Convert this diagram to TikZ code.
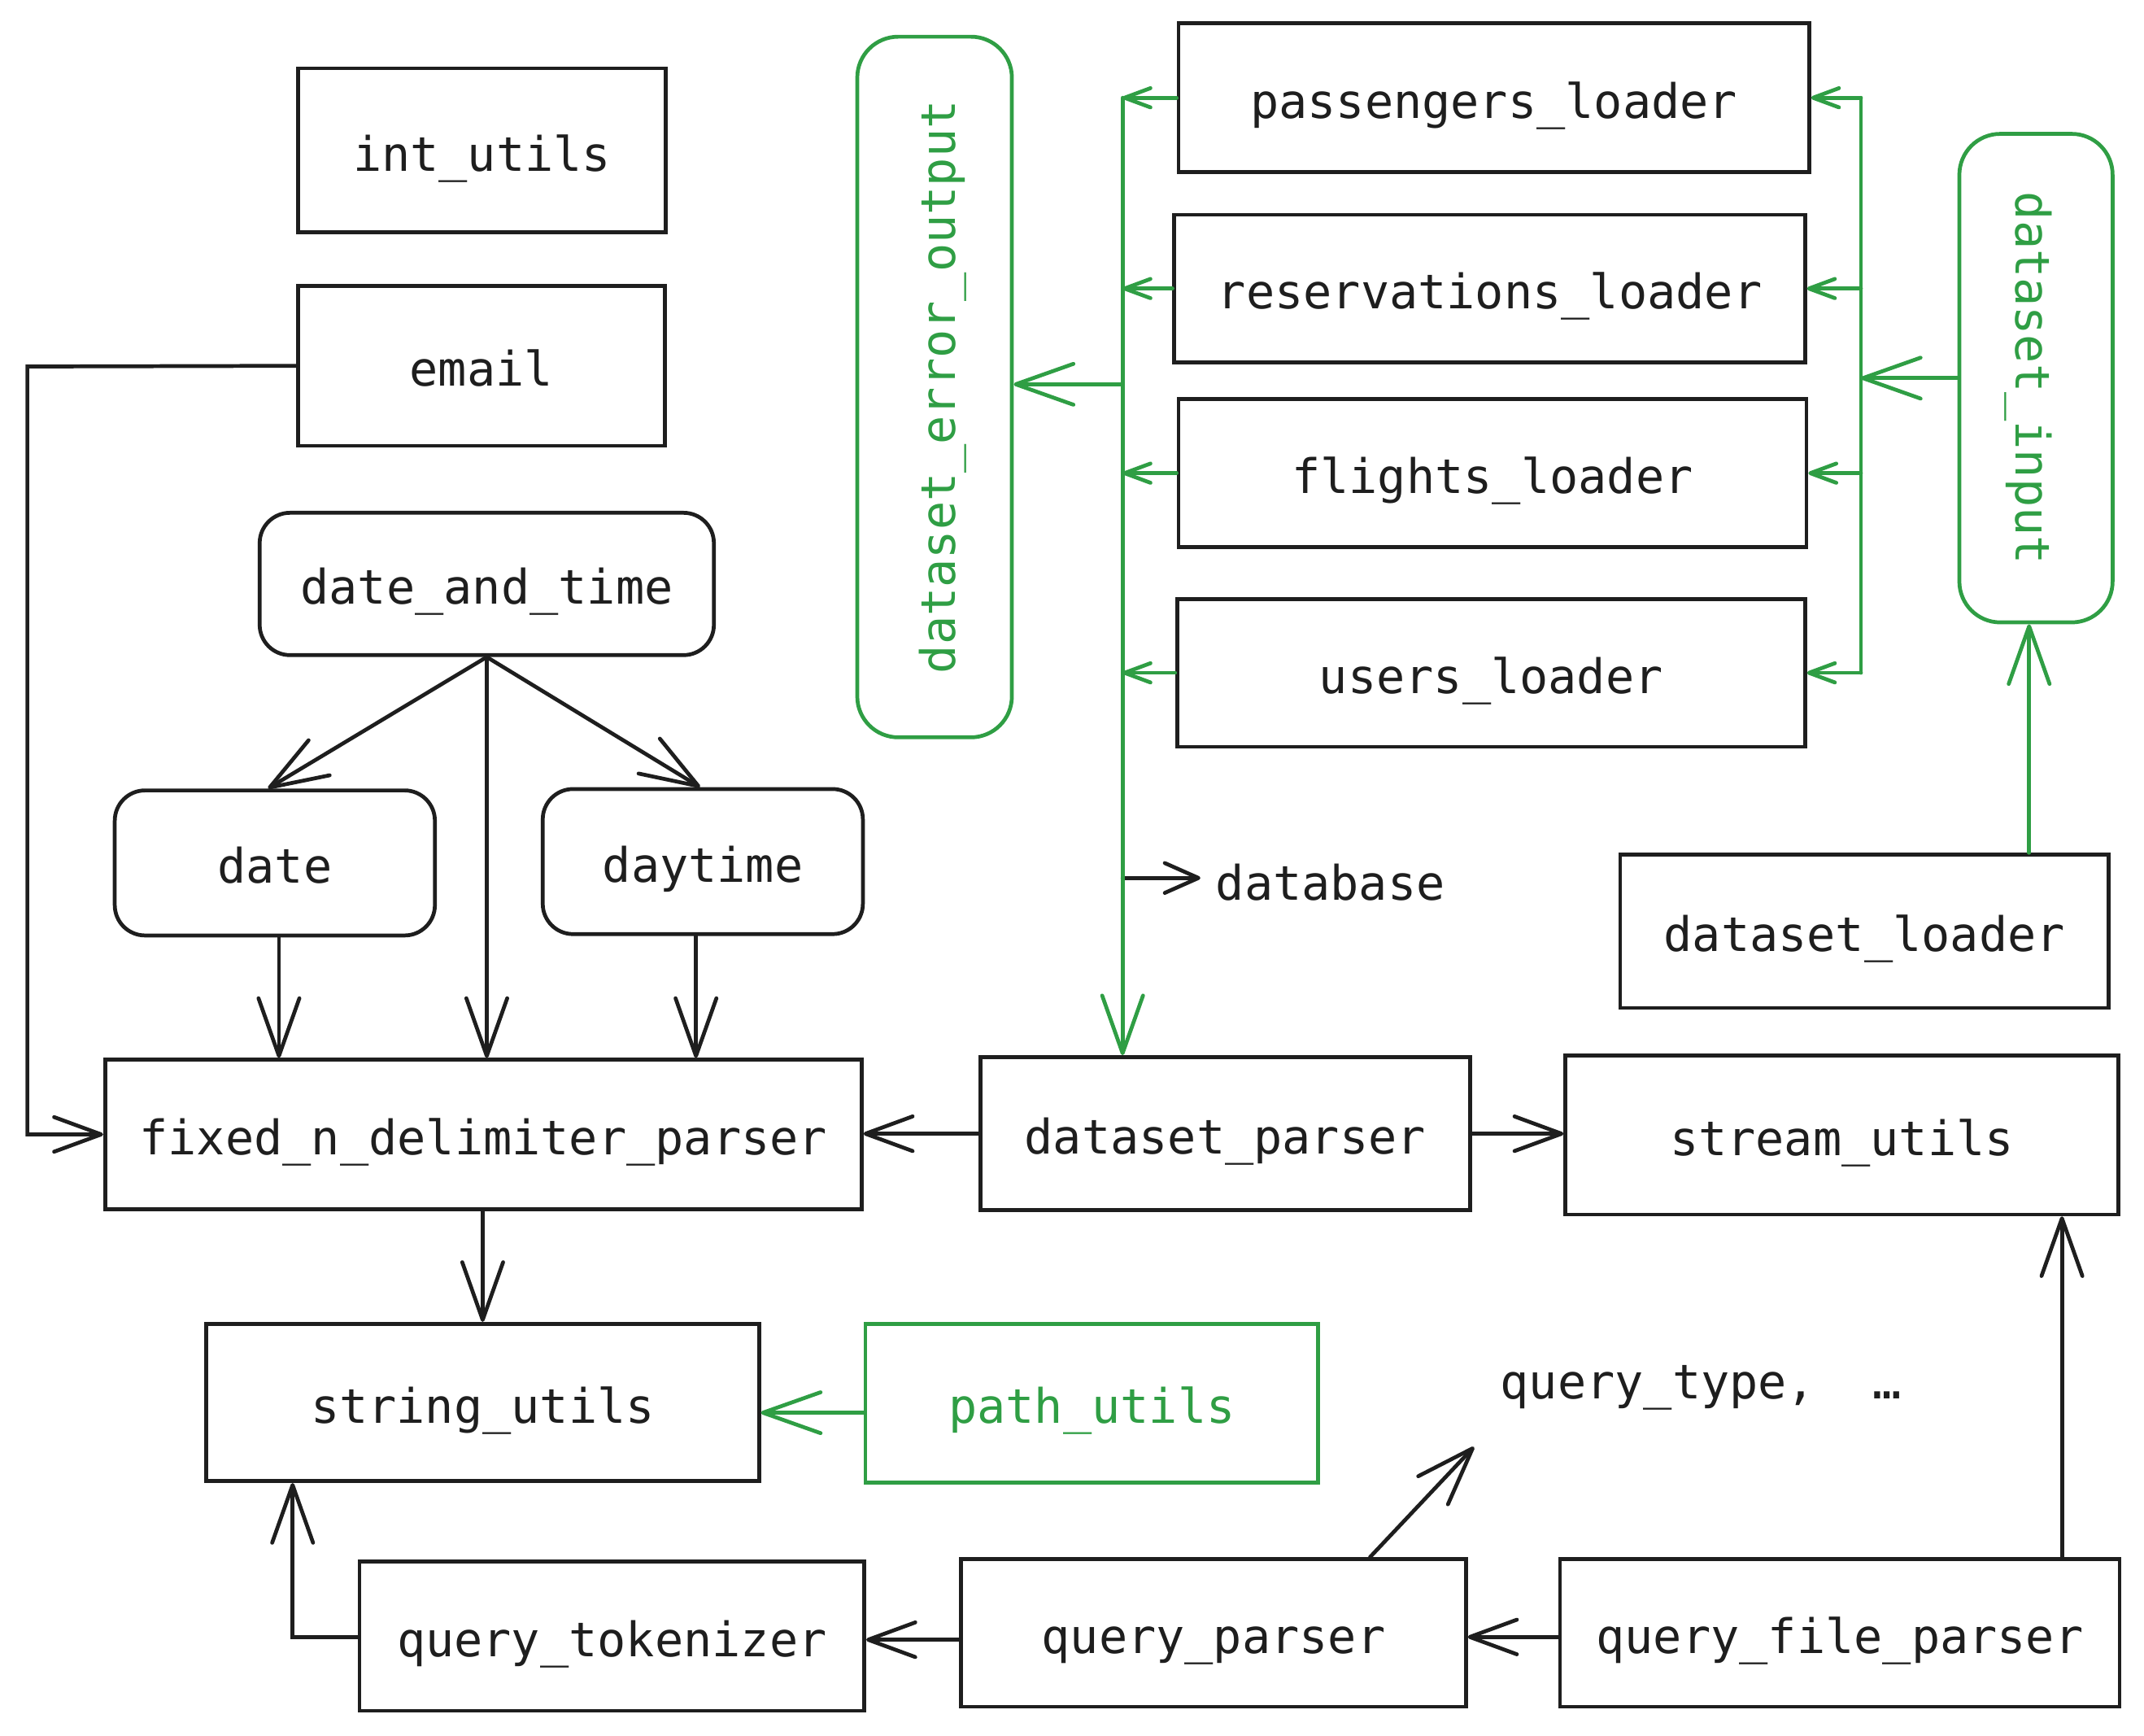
\documentclass[tikz,border=0pt]{standalone}
\usepackage{fontspec}
\setmonofont{DejaVu Sans Mono}
\usetikzlibrary{arrows.meta,calc}
\definecolor{ink}{HTML}{1E1E1E}
\definecolor{grn}{HTML}{2F9E44}
\tikzset{
  bigA/.tip={Straight Barb[length=12pt,width=8.5pt,round]},
  midA/.tip={Straight Barb[length=9.8pt,width=7.2pt,round]},
  smallA/.tip={Straight Barb[length=5.4pt,width=4pt,round]},
  dbA/.tip={Straight Barb[length=7pt,width=6.2pt,round]},
  box/.style={draw=ink, line width=0.8pt, text=ink, inner sep=0pt, text height=8.5pt, text depth=0pt},
  rbox/.style={box, rounded corners=6.3pt},
  gbox/.style={draw=grn, line width=0.8pt, text=grn, inner sep=0pt, text height=8.5pt, text depth=0pt},
  lbl/.style={text=ink, inner sep=3pt},
  conn/.style={draw=ink, line width=0.8pt, line cap=round},
  gconn/.style={draw=grn, line width=0.8pt, line cap=round},
}
\begin{document}
\begin{tikzpicture}[x=0.01cm, y=-0.01cm, font=\ttfamily\fontsize{9.9pt}{11pt}\selectfont]
\useasboundingbox (0,0) rectangle (1568,1269.4);

% left column
\node[box, minimum width=2.69cm, minimum height=1.20cm] (iu) at (352.5,110) {int\_utils};
\node[box, minimum width=2.68cm, minimum height=1.17cm] (em) at (352,267.5) {email};
\node[rbox, minimum width=3.32cm, minimum height=1.04cm] (dt) at (356,427) {date\_and\_time};
\node[rbox, minimum width=2.34cm, minimum height=1.06cm] (da) at (201,631) {date};
\node[rbox, minimum width=2.34cm, minimum height=1.06cm] (dy) at (514,630) {daytime};
\node[box, minimum width=5.53cm, minimum height=1.09cm] (fx) at (353.5,829.5) {fixed\_n\_delimiter\_parser};
\node[box, minimum width=4.04cm, minimum height=1.15cm] (su) at (353,1025.5) {string\_utils};
\node[box, minimum width=3.69cm, minimum height=1.09cm] (qt) at (447.5,1196.5) {query\_tokenizer};

% middle / right
\node[box, minimum width=3.58cm, minimum height=1.12cm] (dp) at (896,829) {dataset\_parser};
\node[box, minimum width=4.04cm, minimum height=1.16cm] (st) at (1347,830) {stream\_utils};
\node[gbox, minimum width=3.31cm, minimum height=1.16cm] (pu) at (798.5,1026) {path\_utils};
\node[lbl] (qty) at (1244,1015) {query\_type,\ \ …};
\node[box, minimum width=3.69cm, minimum height=1.08cm] (qp) at (887.5,1194) {query\_parser};
\node[box, minimum width=4.09cm, minimum height=1.08cm] (qf) at (1345.5,1194) {query\_file\_parser};
\node[box, minimum width=3.57cm, minimum height=1.12cm] (dl) at (1363.5,681) {dataset\_loader};
\node[lbl] (db) at (973,645) {database};

% loaders
\node[box, minimum width=4.61cm, minimum height=1.09cm] (pl) at (1092.5,71.5) {passengers\_loader};
\node[box, minimum width=4.61cm, minimum height=1.08cm] (rl) at (1089.5,211) {reservations\_loader};
\node[box, minimum width=4.59cm, minimum height=1.08cm] (fl) at (1091.5,346) {flights\_loader};
\node[box, minimum width=4.59cm, minimum height=1.08cm] (ul) at (1090.5,492) {users\_loader};

% green rounded vertical boxes
\node[gbox, rounded corners=8.5pt, rotate=90, minimum width=5.12cm, minimum height=1.13cm] (deo) at (683.5,283) {dataset\_error\_output};
\node[gbox, rounded corners=8.5pt, rotate=-90, minimum width=3.57cm, minimum height=1.12cm] (di) at (1489,276.5) {dataset\_input};

% coordinates
\coordinate (lb) at (821,0);
\coordinate (rb) at (1361,0);
\coordinate (b1) at (821,281);
\coordinate (b2) at (821,642);
\coordinate (ec) at (20,268);
\coordinate (tk) at (214,1197);
\coordinate (p1) at (0,1033);
\coordinate (p2) at (0,1199);
\coordinate (p3) at (0,1197);
\coordinate (qtip) at (1078,1058);
\coordinate (v1) at (1508,0);
\coordinate (v2) at (1484,0);

% black connectors
\draw[conn,-midA] (em.west) -- (ec) |- (fx.west);
\draw[conn,-bigA] (dt.south) -- ($(da.north)+(-5,0)$);
\draw[conn,-bigA] (dt.south) -- ($(dy.north)+(-2,0)$);
\draw[conn,-bigA] (dt.south) -- (dt.south |- fx.north);
\draw[conn,-bigA] ($(da.south)+(3,0)$) -- ($(da.south |- fx.north)+(3,0)$);
\draw[conn,-bigA] ($(dy.south)+(-5,0)$) -- ($(dy.south |- fx.north)+(-5,0)$);
\draw[conn,-bigA] (fx.south -| su.north) -- (su.north);
\draw[conn,-midA] (dp.west) -- (fx.east |- dp.west);
\draw[conn,-midA] (dp.east) -- (st.west |- dp.east);
\draw[conn,-bigA] (qt.west |- tk) -- (tk) -- (tk |- su.south);
\draw[conn,-midA] (qp.west |- p2) -- (qt.east |- p2);
\draw[conn,-midA] (qf.west |- p3) -- (qp.east |- p3);
\draw[conn,-bigA] ($(qp.north)+(114.5,0)$) -- (qtip);
\draw[conn,-bigA] (qf.north -| v1) -- (st.south -| v1);
\draw[conn,-dbA] (b2) -- (db.west |- b2);

% green connectors
\draw[gconn,-bigA] (pu.west |- p1) -- (su.east |- p1);
\draw[gconn,-bigA] (lb |- pl.west) -- (lb |- dp.north);
\foreach \n in {pl,rl,fl,ul} \draw[gconn,-smallA] (\n.west) -- (\n.west -| lb);
\draw[gconn,-bigA] (b1) -- (deo.south |- b1);
\draw[gconn] (rb |- pl.east) -- (rb |- ul.east);
\foreach \n in {pl,rl,fl,ul} \draw[gconn,-smallA] (\n.east -| rb) -- (\n.east);
\draw[gconn,-bigA] (di.south) -- (di.south -| rb);
\draw[gconn,-bigA] (dl.north -| v2) -- (di.east -| v2);
\end{tikzpicture}
\end{document}
